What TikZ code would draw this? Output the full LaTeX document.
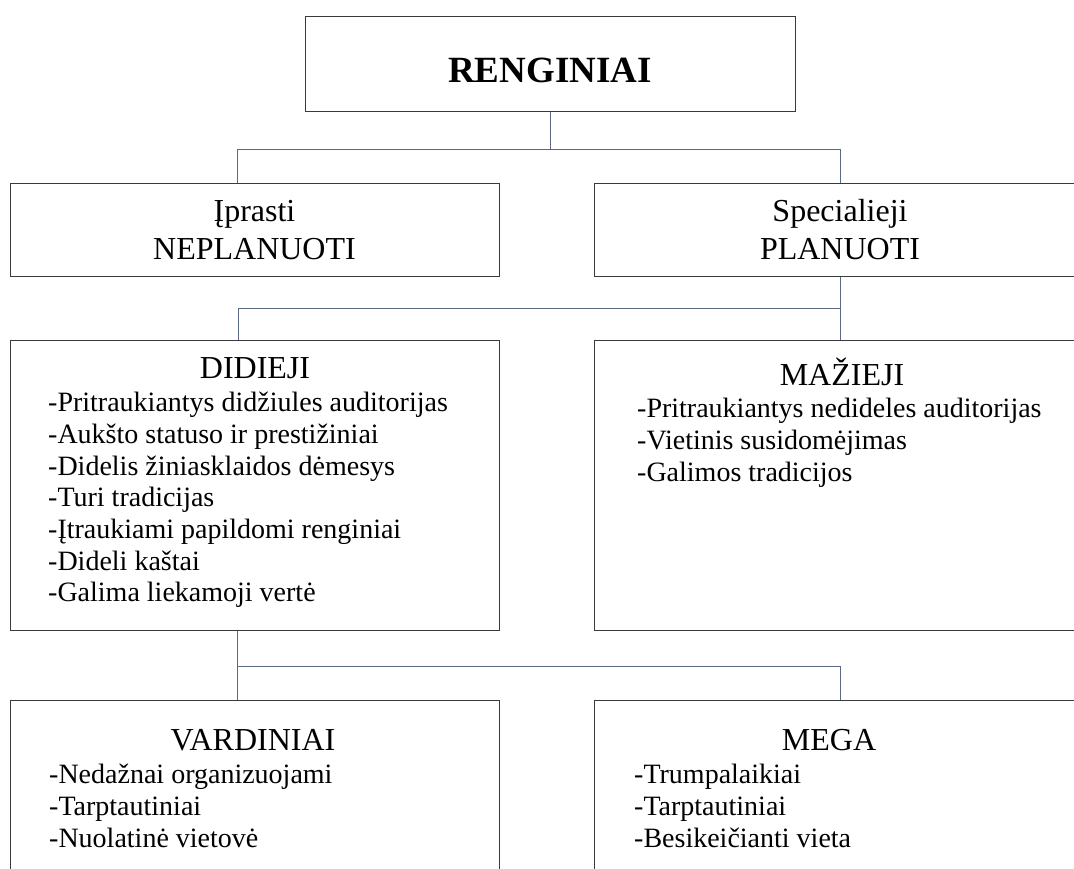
\documentclass[tikz,border=0pt]{standalone}
\usepackage{fontspec}
\setmainfont{Liberation Serif}
\definecolor{linkc}{HTML}{5A6A85}
\definecolor{boxc}{HTML}{3A3A3A}
\begin{document}
\begin{tikzpicture}[x=1pt,y=-1pt,
  box/.style={draw=boxc, line width=1.2pt, rectangle, inner sep=0pt, anchor=north west},
  conn/.style={draw=linkc, line width=1pt},
  head/.style={anchor=base, inner sep=0pt, font=\fontsize{32}{37}\selectfont},
  item/.style={anchor=base west, inner sep=0pt, font=\fontsize{28}{32}\selectfont}]
\useasboundingbox (0,0) rectangle (1074,869);
\clip (0,0) rectangle (1074,869);
\fill[white] (0,0) rectangle (1074,869);
% boxes
\node[box, minimum width=490pt, minimum height=95pt] (ren) at (305,16) {};
\node[box, minimum width=489pt, minimum height=93pt] (ipr) at (10,183) {};
\node[box, minimum width=492pt, minimum height=93pt] (spe) at (594,183) {};
\node[box, minimum width=489pt, minimum height=290pt] (did) at (10,340) {};
\node[box, minimum width=492pt, minimum height=290pt] (maz) at (594,340) {};
\node[box, minimum width=489pt, minimum height=200pt] (var) at (10,700) {};
\node[box, minimum width=492pt, minimum height=200pt] (meg) at (594,700) {};
% connectors
\draw[conn] (ren.south) -- ++(0,37) coordinate (j1);
\draw[conn] ([xshift=-17.5pt]ipr.north) |- (j1) -| (spe.north);
\draw[conn] (spe.south) -- ++(0,31) coordinate (j2) -- (maz.north);
\draw[conn] (j2) -| ([xshift=-17pt]did.north);
\draw[conn] ([xshift=-17.5pt]did.south) -- ++(0,35) coordinate (j3) -- ([xshift=-17.5pt]var.north);
\draw[conn] (j3) -| (meg.north);
% texts
\node[anchor=base, inner sep=0pt, font=\fontsize{37}{42}\selectfont\bfseries] (tren) at (550,83) {RENGINIAI};
\node[head] (tipr1) at (254.5,222) {Įprasti};
\node[head] (tipr2) at (254.5,259) {NEPLANUOTI};
\node[head] (tspe1) at (840,222) {Specialieji};
\node[head] (tspe2) at (840,259) {PLANUOTI};
\node[head] (tdid) at (255,378) {DIDIEJI};
\foreach \t [count=\i] in {-Pritraukiantys didžiules auditorijas, -Aukšto statuso ir prestižiniai, -Didelis žiniasklaidos dėmesys, -Turi tradicijas, -Įtraukiami papildomi renginiai, -Dideli kaštai, -Galima liekamoji vertė}
  \node[item] (d\i) at (48,411.7+31.7*\i-31.7) {\t};
\node[head] (tmaz) at (842,385) {MAŽIEJI};
\foreach \t [count=\i] in {-Pritraukiantys nedideles auditorijas, -Vietinis susidomėjimas, -Galimos tradicijos}
  \node[item] (m\i) at (637,417+32*\i-32) {\t};
\node[head] (tvar) at (253,750) {VARDINIAI};
\foreach \t [count=\i] in {-Nedažnai organizuojami, -Tarptautiniai, -Nuolatinė vietovė}
  \node[item] (v\i) at (49,783+32*\i-32) {\t};
\node[head] (tmeg) at (829,750) {MEGA};
\foreach \t [count=\i] in {-Trumpalaikiai, -Tarptautiniai, -Besikeičianti vieta}
  \node[item] (g\i) at (634,783+32*\i-32) {\t};
\end{tikzpicture}
\end{document}
